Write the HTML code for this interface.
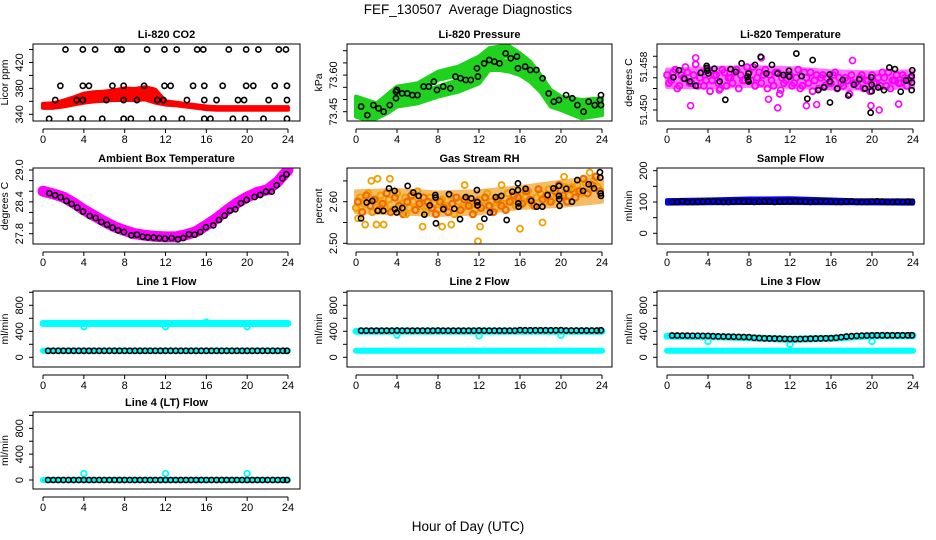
<!DOCTYPE html>
<html><head><meta charset="utf-8">
<style>
html,body{margin:0;padding:0;background:#fff;}
svg{display:block;font-family:"Liberation Sans",Arial,sans-serif;}
</style></head>
<body>
<svg id="chart" width="936" height="540" viewBox="0 0 936 540" xmlns="http://www.w3.org/2000/svg">
<rect x="0" y="0" width="936" height="540" fill="#fff"/>
<text x="468" y="14" font-size="13.5" text-anchor="middle">FEF_130507&#160; Average Diagnostics</text>
<text x="468" y="531" font-size="13.5" text-anchor="middle">Hour of Day (UTC)</text>
</svg>
<script>
// ---------- data ----------
const xTicks = [0,4,8,12,16,20,24];

// CO2
const co2BandHours = [0,1,2,3,4,5,6,7,8,9,10,11,12,13,14,15,16,17,24];
const co2BandLo = [350,350,352,355,358,360,361,362,362,362,363,358,355,354,352,350,348,347,347];
const co2BandHi = [356,357,361,366,372,374,375,377,380,379,382,378,360,358,356,354,352,351,351];
const co2Hours = [2.2,3.9,5.1,7.3,7.7,10.2,11.9,13.1,15.1,15.7,18.2,19.9,21.1,23.1,23.8,
 1.7,3.9,4.5,6.8,7.9,9.9,11.9,12.5,14.7,15.8,17.6,19.9,20.6,22.7,23.9,
 1.2,3.3,3.9,6.2,7.9,9.2,11.2,11.8,14.1,15.8,17.0,19.1,19.7,22.1,23.9,
 0.6,2.7,3.9,5.8,7.9,8.6,10.7,11.8,13.6,15.8,16.4,18.6,19.8,21.6,23.9];
const co2Values = [440,440,440,440,440,440,440,440,440,440,440,440,440,440,440,
 384,384,384,384,384,384,384,384,384,384,384,384,384,384,384,
 362,362,362,362,362,362,362,362,362,362,362,362,362,362,362,
 333,333,333,333,333,333,333,333,333,333,333,333,333,333,333];

// Pressure
const presBandHours = [0,1,2,3,4,6,8,10,12,13,14,15,16,17,18,19,20,22,24];
const presAHi = [73.512,73.498,73.484,73.518,73.553,73.566,73.614,73.635,73.676,73.710,73.717,73.717,73.689,73.655,73.600,73.539,73.512,73.498,73.505];
const presALo = [73.464,73.457,73.450,73.477,73.512,73.532,73.580,73.600,73.628,73.662,73.676,73.676,73.635,73.600,73.546,73.498,73.471,73.457,73.464];
const presBHi = [73.484,73.464,73.471,73.498,73.512,73.525,73.553,73.580,73.621,73.662,73.662,73.655,73.641,73.614,73.573,73.512,73.498,73.477,73.491];
const presBLo = [73.430,73.416,73.423,73.443,73.471,73.484,73.512,73.532,73.566,73.621,73.621,73.614,73.600,73.573,73.532,73.471,73.457,73.423,73.436];
const presHours = [0.5,1.1,1.7,2.2,2.7,3.3,3.9,3.9,4.0,4.5,5.0,5.5,6.0,6.6,7.1,7.6,7.9,8.5,9.2,9.7,10.2,10.7,11.2,11.8,11.9,12.5,13.0,13.5,14.0,14.6,15.1,15.7,15.8,16.5,17.0,17.6,18.2,18.8,19.3,19.8,20.5,21.1,21.6,22.2,22.7,23.3,23.8,23.9,23.9];
const presValues = [73.471,73.436,73.477,73.464,73.450,73.477,73.505,73.532,73.539,73.525,73.525,73.518,73.518,73.553,73.553,73.573,73.539,73.553,73.546,73.594,73.587,73.580,73.580,73.628,73.594,73.648,73.662,73.655,73.648,73.689,73.669,73.676,73.628,73.635,73.621,73.621,73.587,73.525,73.491,73.498,73.518,73.505,73.477,73.450,73.491,73.477,73.498,73.518,73.477];

// Li-820 temperature
const tempBandHours = [0,4,8,12,16,20,24];
const tempBandLo = [51.4543,51.4542,51.4545,51.4543,51.4540,51.4540,51.4542];
const tempBandHi = [51.4575,51.4578,51.4580,51.4578,51.4572,51.4570,51.4572];
const tempA = [51.4565,51.4555,51.4575,51.4545,51.4560,51.4570,51.4550,51.4585,51.4560,51.4545,51.4575,51.4555,51.4565,51.4540,51.4570,51.4560,51.4550,51.4575,51.4565,51.4555,51.4570,51.4580,51.4560,51.4550,51.4575,51.4565,51.4545,51.4570,51.4560,51.4555,51.4565,51.4550,51.4575,51.4545,51.4560,51.4570,51.4555,51.4540,51.4565,51.4560,51.4550,51.4570,51.4560,51.4545,51.4555,51.4565,51.4550,51.4560,51.4540,51.4555,51.4565,51.4550,51.4545,51.4560,51.4570,51.4555,51.4565,51.4550,51.4560,51.4555];
const tempB = [51.4550,51.4570,51.4540,51.4565,51.4580,51.4550,51.4565,51.4545,51.4570,51.4555,51.4535,51.4565,51.4550,51.4575,51.4545,51.4560,51.4570,51.4540,51.4555,51.4580,51.4555,51.4545,51.4570,51.4565,51.4540,51.4555,51.4570,51.4530,51.4550,51.4565,51.4545,51.4560,51.4540,51.4570,51.4550,51.4535,51.4565,51.4560,51.4545,51.4550,51.4565,51.4540,51.4550,51.4560,51.4530,51.4550,51.4545,51.4565,51.4555,51.4535,51.4550,51.4560,51.4570,51.4545,51.4540,51.4555,51.4550,51.4565,51.4545,51.4560];
const tempOutHours = [2.3,2.8,9.2,10.8,13.6,14.6,19.9,20.7,22.6,11.1,5.1,18.1,9.9];
const tempOutValues = [51.4508,51.4597,51.4597,51.4504,51.4508,51.4510,51.4508,51.4500,51.4511,51.4537,51.4537,51.4592,51.4520];
const tempHours = [0.62,1.17,1.69,2.24,2.80,3.28,3.87,3.90,3.93,4.03,4.62,5.14,5.69,6.21,6.73,7.28,7.87,7.90,7.96,7.96,8.59,9.14,9.69,10.24,10.80,11.35,11.90,11.93,12.62,13.14,13.69,14.21,14.76,15.32,15.87,15.90,15.90,16.62,17.14,17.69,18.24,18.76,19.32,19.87,19.93,19.97,19.97,20.61,21.17,21.69,22.24,22.80,23.32,23.87,23.90,23.93,23.87];
const tempValues = [51.4561,51.4574,51.4558,51.4553,51.4545,51.4569,51.4582,51.4578,51.4573,51.4568,51.4577,51.4553,51.4519,51.4576,51.4571,51.4587,51.4562,51.4556,51.4553,51.4568,51.4584,51.4599,51.4568,51.4584,51.4568,51.4565,51.4573,51.4562,51.4605,51.4563,51.4521,51.4593,51.4537,51.4542,51.4566,51.4553,51.4514,51.4540,51.4556,51.4527,51.4547,51.4557,51.4540,51.4495,51.4561,51.4547,51.4535,51.4542,51.4537,51.4579,51.4576,51.4534,51.4555,51.4563,51.4551,51.4574,51.4537];

// Ambient box temperature
const ambBandHours = [0,1,2,3,4,5,6,7,8,9,10,11,12,13,14,15,16,17,18,19,20,21,22,23,24];
const ambBandMid = [28.60,28.55,28.49,28.38,28.25,28.14,28.03,27.93,27.86,27.80,27.77,27.75,27.74,27.74,27.78,27.84,27.96,28.09,28.24,28.38,28.49,28.58,28.63,28.78,29.00];
const ambHours = [0.62,1.18,1.73,2.29,2.81,3.36,3.92,4.57,5.16,5.71,6.27,6.82,7.35,7.93,8.65,9.21,9.76,10.28,10.84,11.39,11.95,12.60,13.22,13.74,14.30,14.86,15.41,15.96,16.68,17.24,17.79,18.32,18.84,19.39,19.95,20.73,21.28,21.84,22.40,22.89,23.44,23.85];
const ambValues = [28.562,28.524,28.487,28.417,28.360,28.291,28.215,28.134,28.096,28.021,27.970,27.913,27.864,27.832,27.770,27.781,27.743,27.732,27.725,27.719,27.706,27.719,27.694,27.719,27.789,27.781,27.832,27.921,27.958,28.058,28.140,28.234,28.260,28.374,28.436,28.492,28.530,28.592,28.592,28.713,28.845,28.921];

// Gas stream RH
const rhBandHours = [0,4,8,12,16,20,24];
const rhBandLo = [2.575,2.572,2.568,2.572,2.585,2.590,2.600];
const rhBandHi = [2.625,2.628,2.622,2.625,2.635,2.648,2.660];
const rhA = [2.585,2.61,2.595,2.62,2.575,2.60,2.615,2.59,2.605,2.58,2.62,2.595,2.61,2.585,2.60,2.625,2.59,2.575,2.61,2.595,2.58,2.605,2.59,2.615,2.57,2.60,2.585,2.61,2.595,2.58,2.605,2.59,2.62,2.60,2.585,2.61,2.595,2.62,2.605,2.59,2.615,2.60,2.625,2.595,2.61,2.62,2.60,2.63,2.605,2.62,2.61,2.635,2.615,2.625,2.64,2.62,2.645,2.63,2.65,2.635];
const rhB = [2.60,2.575,2.615,2.59,2.605,2.58,2.595,2.62,2.575,2.61,2.59,2.57,2.60,2.615,2.58,2.595,2.61,2.60,2.585,2.57,2.60,2.585,2.575,2.595,2.61,2.58,2.605,2.59,2.57,2.60,2.585,2.61,2.59,2.575,2.605,2.59,2.58,2.60,2.615,2.61,2.595,2.625,2.605,2.59,2.63,2.605,2.615,2.60,2.625,2.64,2.615,2.60,2.63,2.61,2.625,2.655,2.62,2.64,2.66,2.625];
const rhOutHours = [1.5,2.1,3.3,2.0,2.7,0.9,6.5,8.4,9.3,11.9,12.1,16.0,18.2,14.2,10.6,22.8,21.0,20.3,0.2,4.9];
const rhOutValues = [2.65,2.655,2.655,2.545,2.545,2.545,2.54,2.54,2.545,2.505,2.54,2.535,2.55,2.64,2.64,2.67,2.635,2.66,2.56,2.57];
const rhHours = [0.49,1.04,1.59,2.11,2.67,3.22,3.77,3.80,3.97,4.52,5.04,5.59,6.11,6.67,7.19,7.74,7.77,7.80,8.52,9.07,9.59,10.15,10.70,11.25,11.80,11.83,11.86,12.52,13.07,13.63,14.18,14.70,15.25,15.80,15.80,15.83,15.87,16.55,17.10,17.63,18.18,18.70,19.25,19.80,19.80,19.83,19.86,20.52,21.07,21.59,22.15,22.70,23.22,23.80,23.83,23.87,23.90];
const rhValues = [2.560,2.598,2.602,2.578,2.578,2.632,2.626,2.582,2.574,2.585,2.638,2.622,2.614,2.569,2.591,2.616,2.610,2.548,2.582,2.618,2.583,2.558,2.611,2.608,2.628,2.599,2.591,2.559,2.574,2.611,2.614,2.556,2.624,2.644,2.628,2.596,2.588,2.631,2.602,2.588,2.588,2.616,2.632,2.638,2.614,2.606,2.590,2.631,2.600,2.652,2.626,2.642,2.632,2.671,2.658,2.620,2.614];

// Sample flow
const sampleBandHours = [0,4,8,12,16,18,24];
const sampleBandLo = [95,96,97,97,96,96,95];
const sampleBandHi = [106,108,111,112,108,106,105];
const flowHours = [0.5,1,1.5,2,2.5,3,3.5,4,4.5,5,5.5,6,6.5,7,7.5,8,8.5,9,9.5,10,10.5,11,11.5,12,12.5,13,13.5,14,14.5,15,15.5,16,16.5,17,17.5,18,18.5,19,19.5,20,20.5,21,21.5,22,22.5,23,23.5,23.9];
const sampleValues = [100,100,102,100,100,100,101,102,102,101,100,100,101,102,101,101,100,101,102,101,100,101,102,102,103,102,101,100,101,102,102,101,100,100,101,102,100,100,100,101,102,101,100,100,101,100,101,100];

// Line flows
const line1Cyan = [520,520];
const line1Low = [100,100];
const line1Values = [100,100,100,100,100,100,100,100,100,100,100,100,100,100,100,100,100,100,100,100,100,100,100,100,100,100,100,100,100,100,100,100,100,100,100,100,100,100,100,100,100,100,100,100,100,100,100,100];
const line1OutHours = [4,12,20,16];
const line1OutValues = [470,470,470,540];

const line2Cyan = [400,400];
const line2Low = [100,100];
const line2Values = [410,410,410,410,410,410,410,412,410,410,410,410,410,410,410,412,410,410,410,410,410,410,410,412,410,410,410,410,410,410,410,418,415,415,415,415,415,415,415,418,412,412,412,412,412,412,412,415];
const line2OutHours = [4,12,20];
const line2OutValues = [340,330,340];

const line3CyanHours = [0,4,8,12,16,20,24];
const line3Cyan = [325,318,300,275,292,332,332];
const line3Low = [100,100];
const line3Values = [335,335,333,333,332,332,330,330,325,322,320,318,316,314,312,310,300,296,292,290,288,286,284,282,280,282,284,286,288,290,292,295,300,310,320,325,330,333,335,337,338,338,338,338,338,338,338,338];
const line3OutHours = [4,12,20];
const line3OutValues = [245,200,245];

const line4Cyan = [0,0];
const line4Values = [0,0,0,0,0,0,0,0,0,0,0,0,0,0,0,0,0,0,0,0,0,0,0,0,0,0,0,0,0,0,0,0,0,0,0,0,0,0,0,0,0,0,0,0,0,0,0,0];
const line4OutHours = [4,12,20];
const line4OutValues = [100,100,100];
const edgeHours = [0,24];

// ---------- layout ----------
const NS = "http://www.w3.org/2000/svg";
const svg = document.getElementById("chart");
const cols = [{bx0:33,bx1:300,h0:43,h24:288},{bx0:347,bx1:612,h0:356,h24:602},{bx0:657,bx1:924,h0:667,h24:913}];
const rows = [{by0:44,by1:121},{by0:168,by1:244},{by0:291,by1:367},{by0:412,by1:489}];

function el(tag, attrs, parent){
  const e = document.createElementNS(NS, tag);
  for (const k in attrs) e.setAttribute(k, attrs[k]);
  (parent||svg).appendChild(e);
  return e;
}

function makePanel(c, r, title, ylab, vA, yA, vB, yB, ticks, labels, fmt, lfs){
  const C = cols[c], R = rows[r];
  const g = el("g", {});
  
  
  const P = {
    g,
    x: h => C.h0 + (C.h24 - C.h0) * h / 24,
    y: v => yA + (yB - yA) * (v - vA) / (vB - vA)
  };
  const t = el("text", {x:(C.bx0+C.bx1)/2, y:R.by0-6, "font-size":"11", "font-weight":"bold", "text-anchor":"middle"}, g);
  t.textContent = title;
  
  
  const yt = el("text", {transform:`translate(${C.bx0-25},${(R.by0+R.by1)/2}) rotate(-90)`, "font-size":"10.5", "text-anchor":"middle"}, g);
  yt.textContent = ylab;
  
  
  ticks.forEach(v => {
    const yy = P.y(v);
    const tk = el("line", {x1:C.bx0-4, x2:C.bx0, y1:yy, y2:yy, stroke:"#000", "stroke-width":"1"}, g);
    
    
  });
  labels.forEach(v => {
    const yy = P.y(v);
    const tl = el("text", {transform:`translate(${C.bx0-10},${yy}) rotate(-90)`, "font-size":lfs||"11", "text-anchor":"middle"}, g);
    tl.textContent = fmt(v);
    
    
  });
  const ax = el("line", {x1:P.x(0), x2:P.x(24), y1:R.by1+8, y2:R.by1+8, stroke:"#000", "stroke-width":"1"}, g);
  
  
  xTicks.forEach(h => {
    const xx = P.x(h);
    const tk = el("line", {x1:xx, x2:xx, y1:R.by1+8, y2:R.by1+12, stroke:"#000", "stroke-width":"1"}, g);
    
    
    const tl = el("text", {x:xx, y:R.by1+22, "font-size":"11", "text-anchor":"middle"}, g);
    tl.textContent = h;
    
    
  });
  const cid = "clip" + c + r;
  const cp = el("clipPath", {id:cid}, g);
  el("rect", {x:C.bx0, y:R.by0, width:C.bx1-C.bx0, height:R.by1-R.by0}, cp);
  P.plot = el("g", {"clip-path":`url(#${cid})`}, g);
  
  
  P.finish = () => {
    const b = el("rect", {x:C.bx0, y:R.by0, width:C.bx1-C.bx0, height:R.by1-R.by0, fill:"none", stroke:"#000", "stroke-width":"1"}, g);
    
    
  };
  return P;
}

function band(P, hours, lo, hi, color, name, op){
  const pts = hours.map((h,i)=>`${P.x(h)},${P.y(hi[i])}`).concat(hours.map((h,i)=>`${P.x(h)},${P.y(lo[i])}`).reverse());
  const p = el("polygon", {points:pts.join(" "), fill:color, stroke:color, "stroke-width":"4", "stroke-linejoin":"round", opacity: op||1}, P.plot);
  
  
}
function thickLine(P, hours, vals, color, w, name){
  const pts = hours.map((h,i)=>`${P.x(h)},${P.y(vals[i])}`).join(" ");
  const p = el("polyline", {points:pts, fill:"none", stroke:color, "stroke-width":w, "stroke-linejoin":"round", "stroke-linecap":"round"}, P.plot);
  
  
}
function points(P, hours, vals, color, name, r, sw){
  hours.forEach((h,i)=>{
    const c = el("circle", {cx:P.x(h), cy:P.y(vals[i]), r:r||2.6, fill:"none", stroke:color, "stroke-width":sw||1.6}, P.plot);
    
    
  });
}
const halfHours = rhA.map((v,i)=>i*0.4);
const halfHoursB = rhB.map((v,i)=>0.2+i*0.4);
const f0 = v => String(v);

// ---------- panels ----------
let P = makePanel(0,0,"Li-820 CO2","Licor ppm",340,114.3,440,49.5,[340,360,380,400,420,440],[340,380,420],f0);
band(P, co2BandHours, co2BandLo, co2BandHi, "#ff0000", "co2-band");
points(P, co2Hours, co2Values, "#000", "co2-point");
P.finish();

P = makePanel(1,0,"Li-820 Pressure","kPa",73.45,111.7,73.70,50.7,[73.45,73.50,73.55,73.60,73.65,73.70],[73.45,73.60],v=>v.toFixed(2));
band(P, presBandHours, presALo, presAHi, "#1ed21e", "pressure-band-upper");
band(P, presBandHours, presBLo, presBHi, "#1ed21e", "pressure-band-lower");
points(P, presHours, presValues, "#000", "pressure-point");
P.finish();

P = makePanel(2,0,"Li-820 Temperature","degrees C",51.450,110,51.460,56.25,[51.450,51.452,51.454,51.456,51.458,51.460],[51.450,51.458],v=>v.toFixed(3),"10");
band(P, tempBandHours, tempBandLo, tempBandHi, "#ff00ff", "temperature-band", 0.55);
points(P, halfHours, tempA, "#ff00ff", "temperature-scatter", 3, 1.8);
points(P, halfHoursB, tempB, "#ff00ff", "temperature-scatter", 3, 1.8);
points(P, tempOutHours, tempOutValues, "#ff00ff", "temperature-outlier", 3, 1.6);
points(P, tempHours, tempValues, "#000", "temperature-point");
P.finish();

P = makePanel(0,1,"Ambient Box Temperature","degrees C",27.8,233.7,29.0,170,[27.8,28.0,28.2,28.4,28.6,28.8,29.0],[27.8,28.4,29.0],v=>v.toFixed(1));
thickLine(P, ambBandHours, ambBandMid, "#ff00ff", 11, "ambient-band");
points(P, ambHours, ambValues, "#000", "ambient-point");
P.finish();

P = makePanel(1,1,"Gas Stream RH","percent",2.50,243.3,2.65,180.9,[2.50,2.55,2.60,2.65],[2.50,2.60],v=>v.toFixed(2));
band(P, rhBandHours, rhBandLo, rhBandHi, "#f09000", "rh-band", 0.6);
points(P, halfHours, rhA, "#f0a000", "rh-scatter", 3, 2.2);
points(P, halfHoursB, rhB, "#f06a00", "rh-scatter", 3, 2.2);
points(P, rhOutHours, rhOutValues, "#f0a000", "rh-outlier", 3, 1.8);
points(P, rhHours, rhValues, "#000", "rh-point");
P.finish();

P = makePanel(2,1,"Sample Flow","ml/min",0,233.3,200,170.7,[0,50,100,150,200],[0,100,200],f0);
band(P, sampleBandHours, sampleBandLo, sampleBandHi, "#0000ff", "sample-flow-band");
points(P, flowHours, sampleValues, "#000", "sample-flow-point");
P.finish();

const flowTicks = [0,200,400,600,800,1000];
const flowLabels = [0,400,800];
P = makePanel(0,2,"Line 1 Flow","ml/min",0,357.3,1000,292.3,flowTicks,flowLabels,f0);
thickLine(P, edgeHours, line1Cyan, "#00ffff", 7, "line1-cyan-band");
thickLine(P, edgeHours, line1Low, "#00ffff", 6, "line1-cyan-low");
points(P, line1OutHours, line1OutValues, "#00ffff", "line1-outlier", 2.8, 1.8);
points(P, flowHours, line1Values, "#000", "line1-point");
P.finish();

P = makePanel(1,2,"Line 2 Flow","ml/min",0,357.3,1000,292.3,flowTicks,flowLabels,f0);
thickLine(P, edgeHours, line2Cyan, "#00ffff", 7, "line2-cyan-band");
thickLine(P, edgeHours, line2Low, "#00ffff", 6, "line2-cyan-low");
points(P, line2OutHours, line2OutValues, "#00ffff", "line2-outlier", 2.8, 1.8);
points(P, flowHours, line2Values, "#000", "line2-point");
P.finish();

P = makePanel(2,2,"Line 3 Flow","ml/min",0,357.3,1000,292.3,flowTicks,flowLabels,f0);
thickLine(P, line3CyanHours, line3Cyan, "#00ffff", 7, "line3-cyan-band");
thickLine(P, edgeHours, line3Low, "#00ffff", 6, "line3-cyan-low");
points(P, line3OutHours, line3OutValues, "#00ffff", "line3-outlier", 2.8, 1.8);
points(P, flowHours, line3Values, "#000", "line3-point");
P.finish();

P = makePanel(0,3,"Line 4 (LT) Flow","ml/min",0,480,1000,415.4,flowTicks,flowLabels,f0);
thickLine(P, edgeHours, line4Cyan, "#00ffff", 6, "line4-cyan-band");
points(P, line4OutHours, line4OutValues, "#00ffff", "line4-outlier", 2.8, 1.8);
points(P, flowHours, line4Values, "#000", "line4-point");
P.finish();
</script>
</body></html>
